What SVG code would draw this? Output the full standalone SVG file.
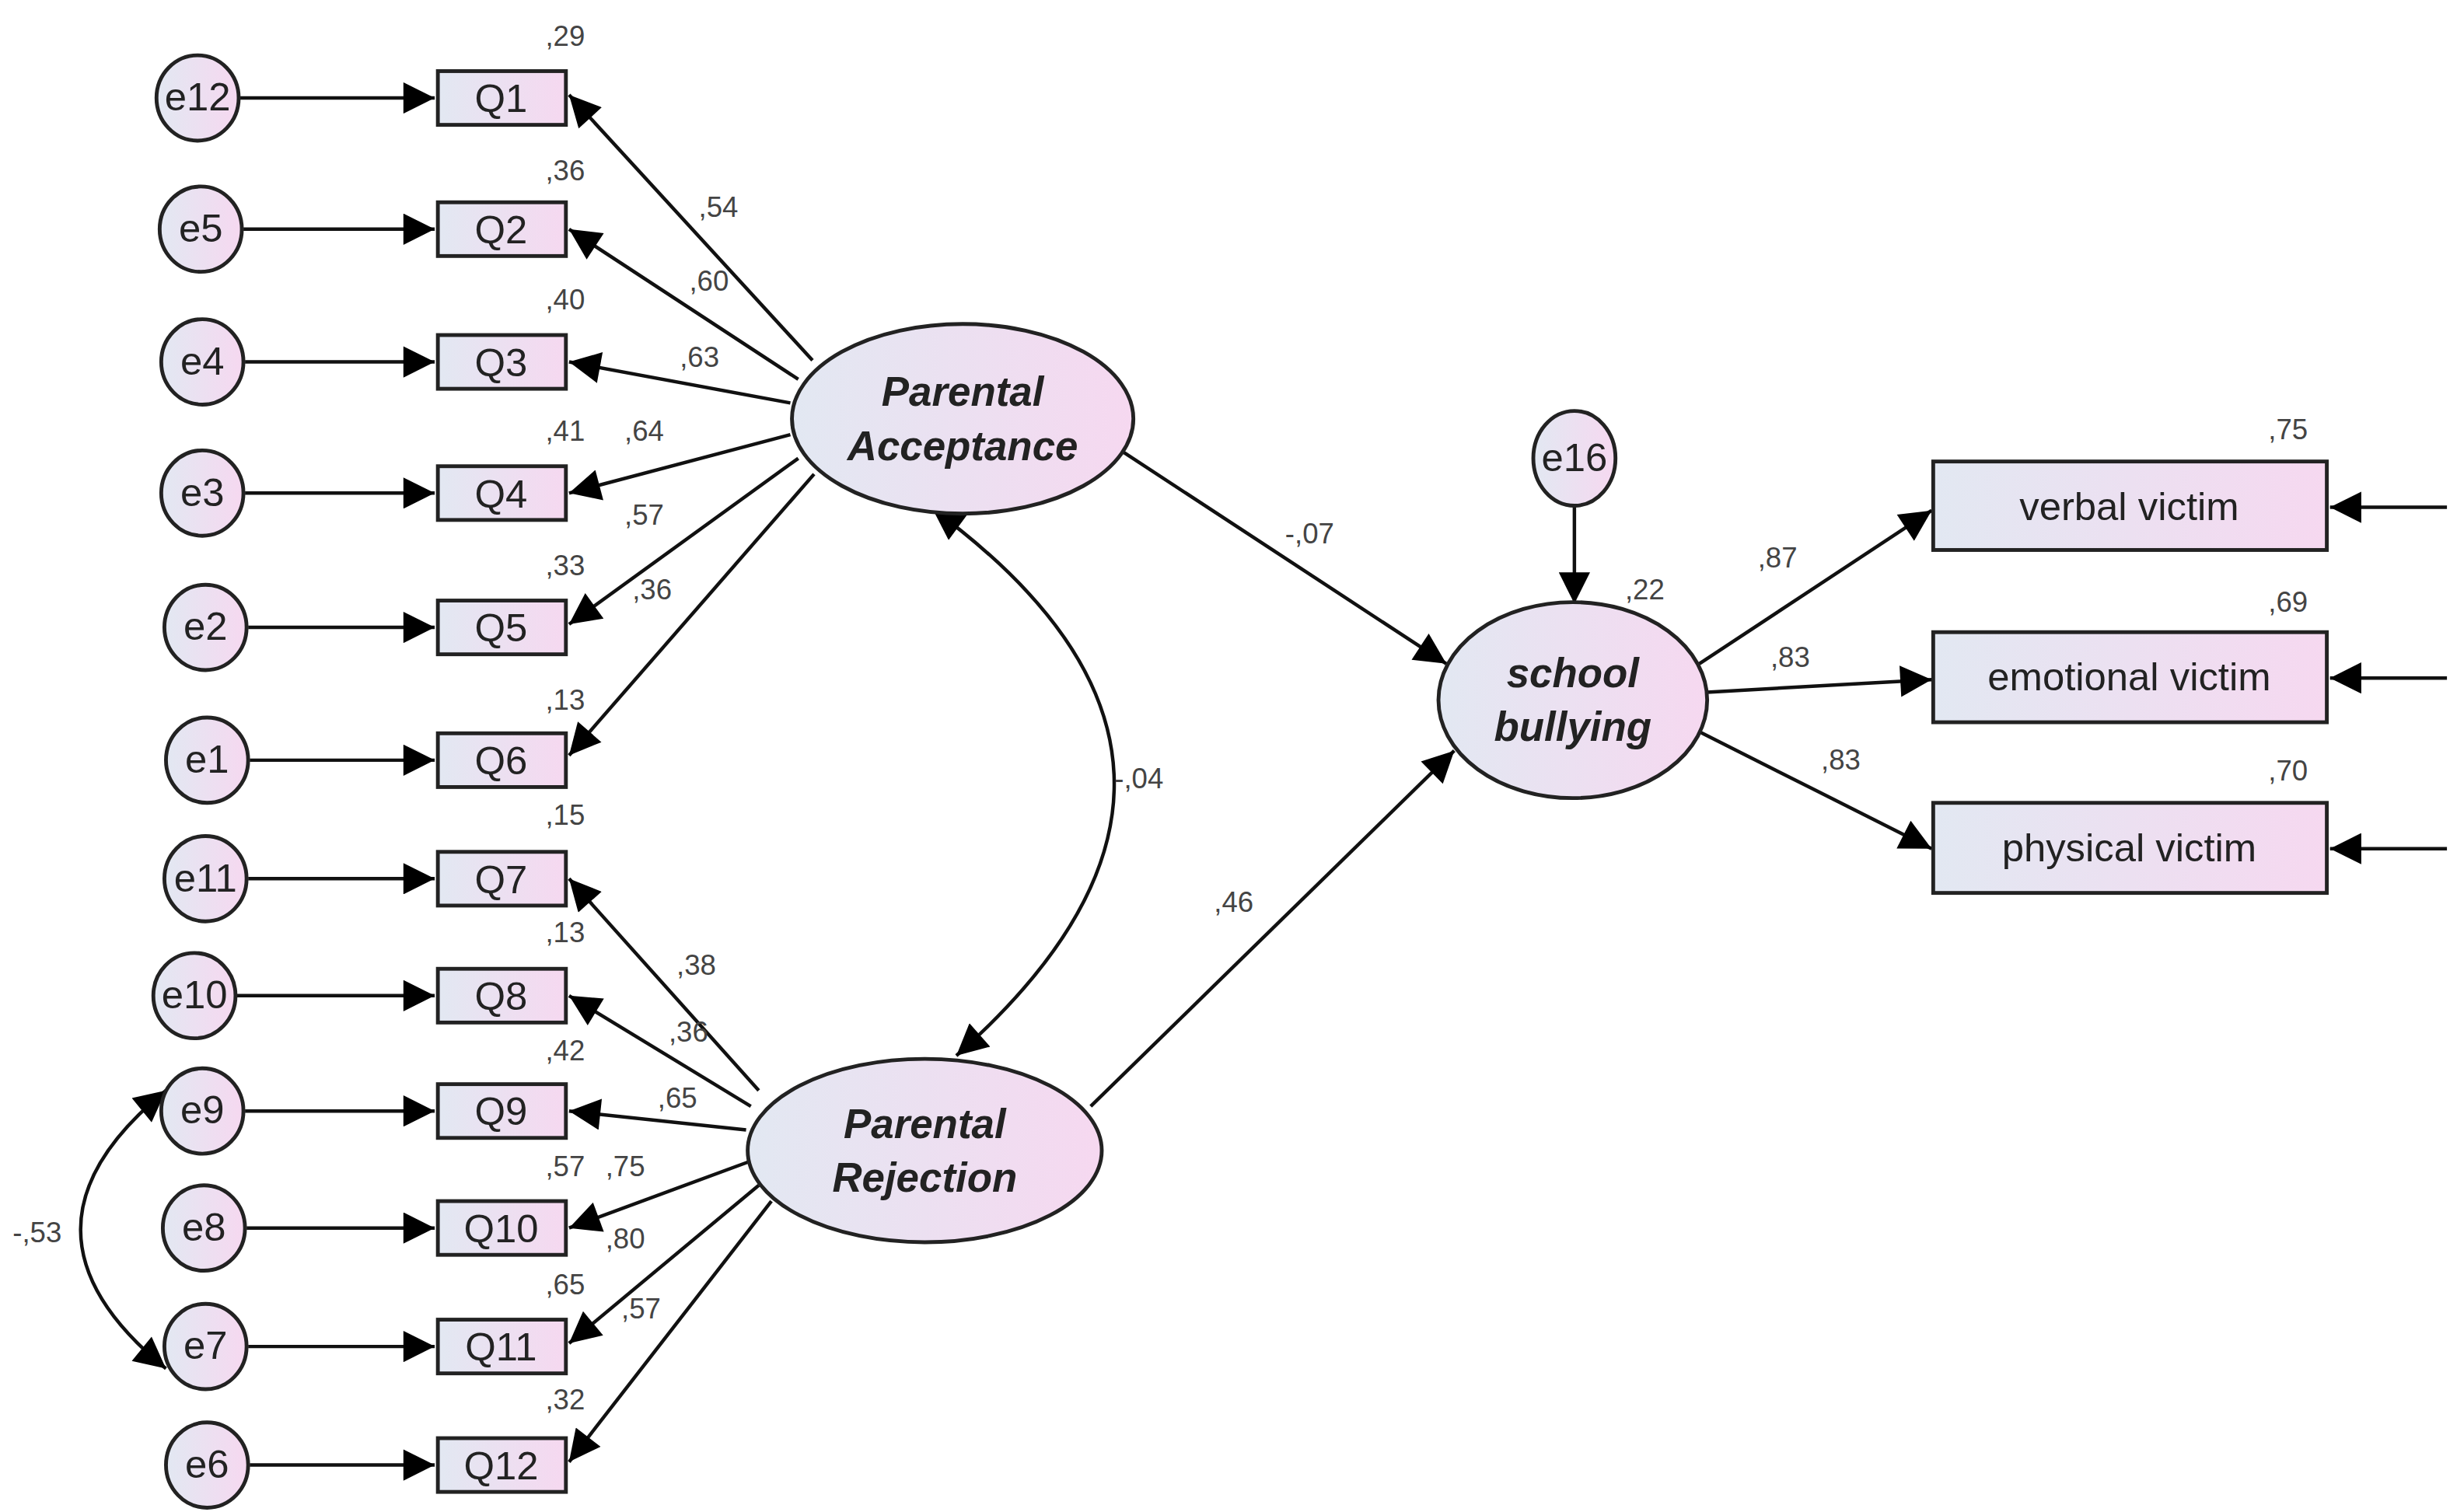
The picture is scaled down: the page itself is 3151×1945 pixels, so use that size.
<svg xmlns="http://www.w3.org/2000/svg" width="3151" height="1945" viewBox="0 0 3151 1945">
<style>
.n{stroke:#222;stroke-width:2.4;fill:url(#g)}
.t{font-family:"Liberation Sans",Arial,sans-serif;font-size:25px;fill:#222;text-anchor:middle}
.b{font-weight:bold;font-style:italic;font-size:26px}
.l{font-family:"Liberation Sans",Arial,sans-serif;font-size:18px;fill:#444}
.c{fill:none;stroke:#111;stroke-width:2.2;marker-end:url(#a)}
.d{marker-start:url(#a)}
</style>
<defs>
<linearGradient id="g" x1="0" y1="0" x2="1" y2="0"><stop offset="0" stop-color="#e2e8f2"/><stop offset="1" stop-color="#f6d8f0"/></linearGradient>
<marker id="a" viewBox="0 0 10 10" refX="10" refY="5" markerWidth="11" markerHeight="9" orient="auto-start-reverse"><path d="M0,0L10,5L0,10z" fill="#000"/></marker>
</defs>
<rect width="3151" height="1945" fill="#fff"/>
<g transform="scale(2.033)">
<g id="connectors">
<path class="c" d="M152,62H275"/><path class="c" d="M154,145H275"/><path class="c" d="M155,229H275"/><path class="c" d="M155,312H275"/><path class="c" d="M157,397H275"/><path class="c" d="M158,481H275"/>
<path class="c" d="M157,556H275"/><path class="c" d="M150,630H275"/><path class="c" d="M155,703H275"/><path class="c" d="M156,777H275"/><path class="c" d="M157,852H275"/><path class="c" d="M158,927H275"/>
<path class="c" d="M514,228L360,60"/><path class="c" d="M505,240L360,145"/><path class="c" d="M500,255L360,229"/><path class="c" d="M500,275L360,312"/><path class="c" d="M505,290L360,395"/><path class="c" d="M515,300L360,478"/>
<path class="c" d="M480,690L360,556"/><path class="c" d="M475,700L360,630"/><path class="c" d="M472,715L360,703"/><path class="c" d="M474,735L360,777"/><path class="c" d="M480,750L360,850"/><path class="c" d="M488,760L360,925"/>
<path class="c" d="M709,285L915,420"/><path class="c" d="M690,700L920,475"/>
<path class="c" d="M1075,420L1222,323"/><path class="c" d="M1080,438L1222,430"/><path class="c" d="M1075,463L1222,537"/>
<path class="c" d="M996,320L996,382"/>
<path class="c" d="M1548,321H1474"/><path class="c" d="M1548,429H1474"/><path class="c" d="M1548,537H1474"/>
<path class="c d" d="M590,322Q812,485 605,668"/>
<path class="c d" d="M105,690Q-3,778 105,866"/>
</g>
<g id="e12"><ellipse class="n" cx="125" cy="62" rx="26" ry="27"/><text class="t" x="125" y="70">e12</text></g>
<g id="e5"><ellipse class="n" cx="127" cy="145" rx="26" ry="27"/><text class="t" x="127" y="153">e5</text></g>
<g id="e4"><ellipse class="n" cx="128" cy="229" rx="26" ry="27"/><text class="t" x="128" y="237">e4</text></g>
<g id="e3"><ellipse class="n" cx="128" cy="312" rx="26" ry="27"/><text class="t" x="128" y="320">e3</text></g>
<g id="e2"><ellipse class="n" cx="130" cy="397" rx="26" ry="27"/><text class="t" x="130" y="405">e2</text></g>
<g id="e1"><ellipse class="n" cx="131" cy="481" rx="26" ry="27"/><text class="t" x="131" y="489">e1</text></g>
<g id="e11"><ellipse class="n" cx="130" cy="556" rx="26" ry="27"/><text class="t" x="130" y="564">e11</text></g>
<g id="e10"><ellipse class="n" cx="123" cy="630" rx="26" ry="27"/><text class="t" x="123" y="638">e10</text></g>
<g id="e9"><ellipse class="n" cx="128" cy="703" rx="26" ry="27"/><text class="t" x="128" y="711">e9</text></g>
<g id="e8"><ellipse class="n" cx="129" cy="777" rx="26" ry="27"/><text class="t" x="129" y="785">e8</text></g>
<g id="e7"><ellipse class="n" cx="130" cy="852" rx="26" ry="27"/><text class="t" x="130" y="860">e7</text></g>
<g id="e6"><ellipse class="n" cx="131" cy="927" rx="26" ry="27"/><text class="t" x="131" y="935">e6</text></g>
<g id="Q1"><rect class="n" x="277" y="45" width="81" height="34"/><text class="t" x="317" y="71">Q1</text></g>
<g id="Q2"><rect class="n" x="277" y="128" width="81" height="34"/><text class="t" x="317" y="154">Q2</text></g>
<g id="Q3"><rect class="n" x="277" y="212" width="81" height="34"/><text class="t" x="317" y="238">Q3</text></g>
<g id="Q4"><rect class="n" x="277" y="295" width="81" height="34"/><text class="t" x="317" y="321">Q4</text></g>
<g id="Q5"><rect class="n" x="277" y="380" width="81" height="34"/><text class="t" x="317" y="406">Q5</text></g>
<g id="Q6"><rect class="n" x="277" y="464" width="81" height="34"/><text class="t" x="317" y="490">Q6</text></g>
<g id="Q7"><rect class="n" x="277" y="539" width="81" height="34"/><text class="t" x="317" y="565">Q7</text></g>
<g id="Q8"><rect class="n" x="277" y="613" width="81" height="34"/><text class="t" x="317" y="639">Q8</text></g>
<g id="Q9"><rect class="n" x="277" y="686" width="81" height="34"/><text class="t" x="317" y="712">Q9</text></g>
<g id="Q10"><rect class="n" x="277" y="760" width="81" height="34"/><text class="t" x="317" y="786">Q10</text></g>
<g id="Q11"><rect class="n" x="277" y="835" width="81" height="34"/><text class="t" x="317" y="861">Q11</text></g>
<g id="Q12"><rect class="n" x="277" y="910" width="81" height="34"/><text class="t" x="317" y="936">Q12</text></g>
<g id="PA"><ellipse class="n" cx="609" cy="265" rx="108" ry="60"/><text class="t b" x="609" y="257">Parental</text><text class="t b" x="609" y="291">Acceptance</text></g>
<g id="PR"><ellipse class="n" cx="585" cy="728" rx="112" ry="58"/><text class="t b" x="585" y="720">Parental</text><text class="t b" x="585" y="754">Rejection</text></g>
<g id="SB"><ellipse class="n" cx="995" cy="443" rx="85" ry="62"/><text class="t b" x="995" y="435">school</text><text class="t b" x="995" y="469">bullying</text></g>
<g id="e16"><ellipse class="n" cx="996" cy="290" rx="26" ry="30"/><text class="t" x="996" y="298">e16</text></g>
<g id="verbal"><rect class="n" x="1223" y="292" width="249" height="56"/><text class="t" x="1347" y="329">verbal victim</text></g>
<g id="emotional"><rect class="n" x="1223" y="400" width="249" height="57"/><text class="t" x="1347" y="437">emotional victim</text></g>
<g id="physical"><rect class="n" x="1223" y="508" width="249" height="57"/><text class="t" x="1347" y="545">physical victim</text></g>
<g id="labels" class="l">
<text x="345" y="29">,29</text><text x="442" y="137">,54</text><text x="345" y="114">,36</text><text x="436" y="184">,60</text><text x="345" y="196">,40</text><text x="430" y="232">,63</text>
<text x="345" y="279">,41</text><text x="395" y="279">,64</text><text x="395" y="332">,57</text><text x="345" y="364">,33</text><text x="400" y="379">,36</text><text x="345" y="449">,13</text>
<text x="345" y="522">,15</text><text x="428" y="617">,38</text><text x="345" y="596">,13</text><text x="423" y="659">,36</text><text x="345" y="671">,42</text><text x="416" y="701">,65</text>
<text x="345" y="744">,57</text><text x="383" y="744">,75</text><text x="383" y="790">,80</text><text x="345" y="819">,65</text><text x="393" y="834">,57</text><text x="345" y="892">,32</text>
<text x="8" y="786">-,53</text><text x="705" y="499">-,04</text><text x="813" y="344">-,07</text><text x="768" y="577">,46</text><text x="1028" y="379">,22</text>
<text x="1112" y="359">,87</text><text x="1120" y="422">,83</text><text x="1152" y="487">,83</text><text x="1435" y="278">,75</text><text x="1435" y="387">,69</text><text x="1435" y="494">,70</text>
</g>
</g>
</svg>
